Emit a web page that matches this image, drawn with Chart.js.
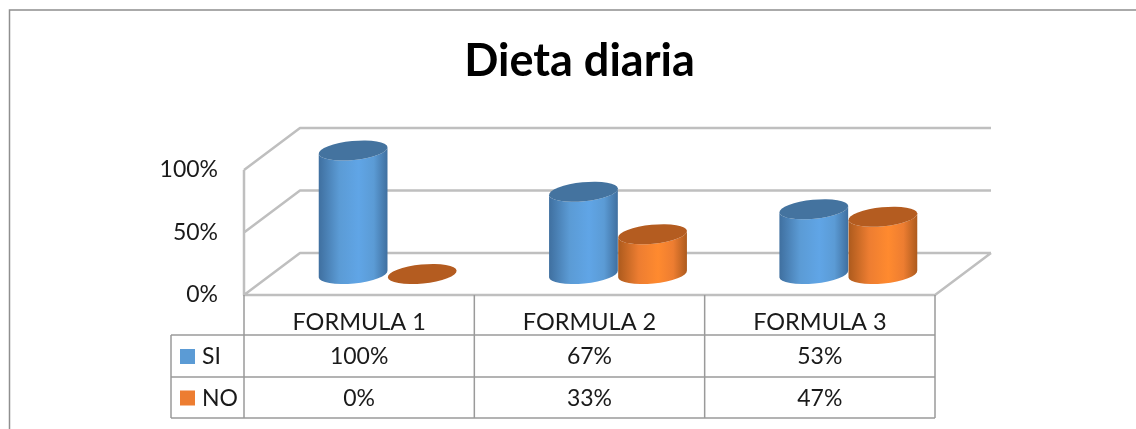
<!DOCTYPE html>
<html><head><meta charset="utf-8">
<style>html,body{margin:0;padding:0;background:#fff}#w{position:relative;width:1136px;height:429px}canvas{filter:blur(.4px)}</style>
<script src="https://cdn.jsdelivr.net/npm/chart.js@4"></script></head>
<body><div id="w"><canvas id="c" width="1136" height="429"></canvas></div>
<script>
const chartTitle = 'Dieta diaria';
const categories = ['FORMULA 1', 'FORMULA 2', 'FORMULA 3'];
const seriesNames = ['SI', 'NO'];
const siValues = [100, 67, 53];
const noValues = [0, 33, 47];
const yTicks = [0, 50, 100];
const FONT = 'Lato, Carlito, sans-serif';
const DEPTH_X = 56, DEPTH_Y = 42;
const palette = [
  {legend:'#5b9bd5', cap:'#44739f', edge:'#3f6f9f', mid:'#60a5e6'},
  {legend:'#ed7d31', cap:'#b45c20', edge:'#ac5a1d', mid:'#ff8a2f'}
];
const roomPlugin = {
  id:'room',
  beforeDatasetsDraw(chart){
    const {ctx, chartArea:a, scales:{y}} = chart;
    ctx.save();
    ctx.strokeStyle='#bfbfbf'; ctx.lineWidth=2.5; ctx.lineJoin='round';
    ctx.beginPath();
    yTicks.forEach(t=>{
      const p=y.getPixelForValue(t);
      ctx.moveTo(a.left,p); ctx.lineTo(a.left+DEPTH_X,p-DEPTH_Y); ctx.lineTo(a.right+DEPTH_X,p-DEPTH_Y);
    });
    const zero=y.getPixelForValue(0);
    ctx.moveTo(a.left,y.getPixelForValue(100)); ctx.lineTo(a.left,zero); ctx.lineTo(a.right,zero); ctx.lineTo(a.right+DEPTH_X,zero-DEPTH_Y);
    ctx.stroke(); ctx.restore();
  }
};
const cylinderPlugin = {
  id:'cylinder',
  beforeDatasetDraw(chart,args){
    const {ctx}=chart, col=palette[args.index], T=-0.1, RY=9.5;
    args.meta.data.forEach(bar=>{
      const rx=bar.width/2, cx=bar.x+DEPTH_X/2+0.5, top=bar.y-DEPTH_Y/2+1.5, base=bar.base-DEPTH_Y/2;
      if(base-top>0.5){
        const g=ctx.createLinearGradient(cx-rx,0,cx+rx,0);
        g.addColorStop(0,col.edge); g.addColorStop(.3,col.legend); g.addColorStop(.58,col.mid); g.addColorStop(.8,col.legend); g.addColorStop(1,col.edge);
        ctx.fillStyle=g;
        ctx.beginPath();
        ctx.ellipse(cx,base,rx,RY,T,0,Math.PI);
        ctx.ellipse(cx,top,rx,RY,T,Math.PI,0,true);
        ctx.closePath(); ctx.fill();
      }
      ctx.fillStyle=col.cap;
      ctx.beginPath(); ctx.ellipse(cx,base-top>0.5?top:base,rx,RY,T,0,Math.PI*2); ctx.fill();
    });
    return false;
  }
};
const tablePlugin = {
  id:'dataTable',
  afterDraw(chart){
    const {ctx, chartArea:a, scales:{x}} = chart;
    const L=171, rows=[335,377,418], cw=(a.right-a.left)/categories.length;
    ctx.save();
    ctx.strokeStyle='#8f8f8f'; ctx.lineWidth=1.5;
    ctx.beginPath(); ctx.moveTo(9.5,429); ctx.lineTo(9.5,10); ctx.lineTo(1136,10); ctx.stroke();
    ctx.strokeStyle='#9a9a9a'; ctx.lineWidth=1.5;
    ctx.beginPath();
    for(let i=0;i<=categories.length;i++){const X=a.left+i*cw; ctx.moveTo(X,a.bottom); ctx.lineTo(X,rows[2]);}
    rows.forEach(r=>{ctx.moveTo(L,r); ctx.lineTo(a.right,r);});
    ctx.moveTo(L,rows[0]); ctx.lineTo(L,rows[2]);
    ctx.stroke();
    ctx.font='23px '+FONT; ctx.textBaseline='middle';
    [siValues,noValues].forEach((vals,s)=>{
      const rowMid=(rows[s]+rows[s+1])/2;
      ctx.fillStyle=palette[s].legend;
      ctx.fillRect(180,rowMid-7,15,15);
      ctx.fillStyle='#1a1a1a'; ctx.textAlign='left';
      ctx.fillText(seriesNames[s],202,rowMid+1);
      ctx.textAlign='center';
      vals.forEach((v,i)=>ctx.fillText(v+'%',x.getPixelForTick(i),rowMid+1));
    });
    ctx.restore();
  }
};
new Chart(document.getElementById('c'),{
  type:'bar',
  data:{labels:categories,datasets:[
    {label:seriesNames[0],data:siValues,backgroundColor:palette[0].legend},
    {label:seriesNames[1],data:noValues,backgroundColor:palette[1].legend}
  ]},
  plugins:[roomPlugin,cylinderPlugin,tablePlugin],
  options:{
    responsive:false,animation:false,
    categoryPercentage:.6,barPercentage:1,
    layout:{padding:{left:24,right:1,top:0,bottom:0}},
    plugins:{
      legend:{display:false},tooltip:{enabled:false},
      title:{display:true,text:chartTitle,color:'#000',font:{family:FONT,size:45,weight:'bold'},padding:{top:34,bottom:82}}
    },
    scales:{
      y:{min:0,max:100,afterFit(s){s.width=220;},
        afterBuildTicks(s){s.ticks=yTicks.map(v=>({value:v}));},
        grid:{display:false},border:{display:false},
        ticks:{callback:v=>v+'%',color:'#1a1a1a',font:{family:FONT,size:23},padding:18}},
      spacer:{position:'right',afterFit(s){s.width=200;},grid:{display:false},border:{display:false},ticks:{display:false}},
      x:{afterFit(s){s.height=134;},grid:{display:false},border:{display:false},
        ticks:{color:'#1a1a1a',font:{family:FONT,size:23.5},padding:5,maxRotation:0}}
    }
  }
});
</script></body></html>
